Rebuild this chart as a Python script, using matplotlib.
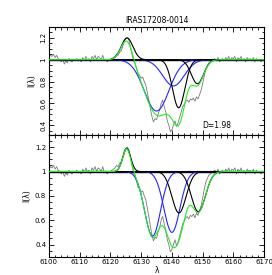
import numpy as np
import matplotlib
matplotlib.use("Agg")
import matplotlib.pyplot as plt
from matplotlib.ticker import MultipleLocator

title = "IRAS17208-0014"
d_label = "D=1.98"

# observed spectrum, 0.5 A steps starting at 6100
flux = [1.02, 1.04, 1.03, 1.05, 1.02, 1.04, 1.01, 1.00, 0.98, 1.00,
        0.96, 0.99, 0.97, 1.01, 0.99, 0.98, 1.00, 0.99, 1.01, 0.99,
        1.00, 0.98, 1.02, 0.99, 1.03, 1.00, 1.01, 0.98, 1.03, 1.01,
        1.04, 1.00, 1.03, 1.02, 1.00, 1.04, 0.99, 1.00, 0.98, 1.00,
        1.00, 1.01, 1.02, 1.03, 1.05, 1.04, 1.07, 1.08, 1.12, 1.17,
        1.19, 1.20, 1.18, 1.12, 1.05, 0.99, 0.96, 0.92, 0.87, 0.86,
        0.83, 0.84, 0.80, 0.77, 0.70, 0.63, 0.55, 0.48, 0.43, 0.46,
        0.45, 0.50, 0.54, 0.60, 0.63, 0.57, 0.52, 0.44, 0.40, 0.34,
        0.36, 0.40, 0.44, 0.39, 0.42, 0.47, 0.52, 0.57, 0.59, 0.62,
        0.63, 0.61, 0.64, 0.63, 0.65, 0.62, 0.66, 0.64, 0.68, 0.72,
        0.78, 0.85, 0.91, 0.94, 0.97, 0.98, 0.99, 1.00, 1.01, 0.99,
        1.02, 0.98, 1.00, 1.01, 0.99, 1.02, 1.00, 1.03, 0.99, 1.02,
        1.01, 1.03, 0.98, 1.02, 1.00, 1.03, 0.99, 1.01, 0.98, 1.02,
        1.00, 1.01, 0.99, 1.02, 0.98, 1.01, 0.99, 1.00, 0.98, 1.00,
        0.99]
wave_start = 6100.0
wave_step = 0.5

# fitted components: (center, amplitude, sigma); emission amp > 0, absorption depth
top_emis = (6125.4, 0.20, 1.9)
top_blue = [(6135.0, 0.47, 4.0), (6140.5, 0.24, 3.5)]
top_black = [(6142.2, 0.44, 2.0), (6148.3, 0.22, 2.0)]

bot_emis = (6125.3, 0.19, 1.3)
bot_blue = [(6133.7, 0.53, 2.6), (6140.0, 0.50, 2.6)]
bot_black = [(6142.3, 0.34, 2.3), (6148.6, 0.33, 2.3)]

GREY = "#7a7a7a"
GREEN = "#22ee22"
BLUE = "#2626ff"

fig = plt.figure(figsize=(2.72, 2.75), dpi=100)
ax1 = fig.add_axes([0.180, 0.509, 0.791, 0.393])
ax2 = fig.add_axes([0.180, 0.0665, 0.791, 0.4425])

wave = wave_start + wave_step * np.arange(len(flux))
x = np.linspace(6100, 6170, 1401)

def gauss(c, a, s):
    return a * np.exp(-0.5 * ((x - c) / s) ** 2)

def draw(ax, emis, blues, blacks):
    ax.plot(wave, flux, color=GREY, lw=0.6, zorder=2)
    ax.axhline(1.0, color="black", lw=1.0, zorder=3)
    em = 1 + gauss(*emis)
    total = em.copy()
    for comp in blues:
        prof = 1 - gauss(*comp)
        ax.plot(x, prof, color=BLUE, lw=0.8, zorder=4)
        total *= prof
    for comp in blacks:
        prof = 1 - gauss(*comp)
        ax.plot(x, prof, color="black", lw=0.8, zorder=4)
        total *= prof
    ax.plot(x, em, color="black", lw=0.8, zorder=4)
    ax.plot(x, total, color=GREEN, lw=0.8, zorder=5)
    ax.set_xlim(6100, 6170)
    ax.set_ylim(0.3, 1.3)
    ax.xaxis.set_major_locator(MultipleLocator(10))
    ax.xaxis.set_minor_locator(MultipleLocator(2))
    ax.yaxis.set_major_locator(MultipleLocator(0.2))
    ax.yaxis.set_minor_locator(MultipleLocator(0.05))
    ax.tick_params(which="both", direction="in", top=True, right=True,
                   labelsize=5, width=0.6, pad=2)
    ax.tick_params(which="major", length=3.5)
    ax.tick_params(which="minor", length=1.8)
    for sp in ax.spines.values():
        sp.set_linewidth(0.8)
    ax.yaxis.set_major_formatter(plt.FuncFormatter(lambda v, p: ("%g" % round(v, 2))))
    ax.set_ylabel("I(λ)", fontsize=5.5, labelpad=3)

draw(ax1, top_emis, top_blue, top_black)
draw(ax2, bot_emis, bot_blue, bot_black)

ax1.set_ylim(0.31, 1.3)
ax1.tick_params(labelbottom=False)
for lab in ax1.get_yticklabels():
    lab.set_rotation(90)
    lab.set_va("center")
ax1.set_title(title, fontsize=5.5, pad=3)
ax1.text(6150, 0.40, d_label, fontsize=5.5, va="center", ha="left")

ax2.set_xlabel("λ", fontsize=5.5, labelpad=0.5)

fig.savefig("out.png", dpi=100)
